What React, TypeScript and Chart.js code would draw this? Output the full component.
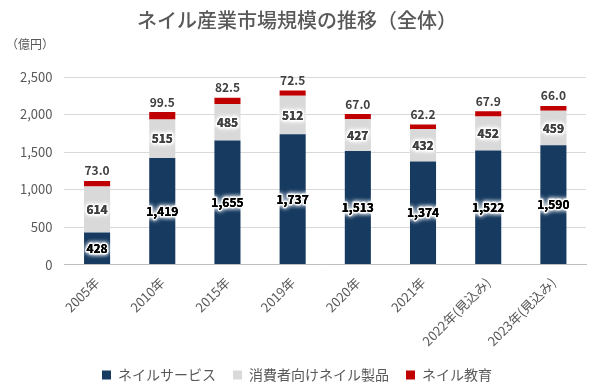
import React, { useEffect, useRef } from "react";
import { Chart, registerables } from "chart.js";

Chart.register(...registerables);

const categories = ["2005年", "2010年", "2015年", "2019年", "2020年", "2021年", "2022年(見込み)", "2023年(見込み)"];
const nailService = [428, 1419, 1655, 1737, 1513, 1374, 1522, 1590];
const consumerProducts = [614, 515, 485, 512, 427, 432, 452, 459];
const nailEducation = [73.0, 99.5, 82.5, 72.5, 67.0, 62.2, 67.9, 66.0];
const yTicks = [0, 500, 1000, 1500, 2000, 2500];

const FONT = "'Noto Sans CJK JP', 'Noto Sans', sans-serif";

export default function App() {
  const ref = useRef<HTMLCanvasElement | null>(null);
  useEffect(() => {
    document.body.style.margin = "0";
    const labelsPlugin = {
      id: "valueLabels",
      afterDatasetsDraw(chart: any) {
        const ctx = chart.ctx;
        ctx.save();
        ctx.textAlign = "center";
        ctx.textBaseline = "middle";
        ctx.font = `bold 12px ${FONT}`;
        chart.data.datasets.forEach((ds: any, di: number) => {
          const meta = chart.getDatasetMeta(di);
          meta.data.forEach((el: any, i: number) => {
            const v = ds.data[i];
            const x = el.x;
            if (di === 2) {
              ctx.fillStyle = "#404040";
              ctx.shadowBlur = 0;
              ctx.fillText(v.toFixed(1), x, el.y - 10);
              return;
            }
            const text = v.toLocaleString("en-US");
            const y = (el.y + el.base) / 2;
            ctx.shadowColor = "#ffffff";
            ctx.shadowBlur = 5;
            ctx.strokeStyle = "rgba(255,255,255,0.9)";
            ctx.lineWidth = 3;
            ctx.lineJoin = "round";
            ctx.strokeText(text, x, y);
            ctx.fillStyle = di === 0 ? "#000000" : "#404040";
            for (let k = 0; k < 3; k++) ctx.fillText(text, x, y);
            ctx.shadowBlur = 0;
            ctx.fillText(text, x, y);
          });
        });
        ctx.restore();
      },
    };
    const unitPlugin = {
      id: "unitLabel",
      afterDraw(chart: any) {
        const ctx = chart.ctx;
        ctx.save();
        ctx.font = `12px ${FONT}`;
        ctx.fillStyle = "#595959";
        ctx.textAlign = "left";
        ctx.textBaseline = "middle";
        ctx.fillText("（億円）", 6, 44);
        ctx.restore();
      },
    };
    const chart = new Chart(ref.current!, {
      type: "bar",
      data: {
        labels: categories,
        datasets: [
          { label: "ネイルサービス", data: nailService, backgroundColor: "#163A60", barPercentage: 0.4, categoryPercentage: 1 },
          { label: "消費者向けネイル製品", data: consumerProducts, backgroundColor: "#D9D9D9", barPercentage: 0.4, categoryPercentage: 1 },
          { label: "ネイル教育", data: nailEducation, backgroundColor: "#C00000", barPercentage: 0.4, categoryPercentage: 1 },
        ],
      },
      options: {
        animation: false,
        responsive: false,
        layout: { padding: { top: 0, right: 14, left: 8, bottom: 0 } },
        plugins: {
          title: {
            display: true,
            text: "ネイル産業市場規模の推移（全体）",
            color: "#595959",
            font: { family: FONT, size: 20, weight: 500 },
            padding: { top: 8, bottom: 45 },
          },
          legend: {
            position: "bottom",
            labels: {
              boxWidth: 9,
              boxHeight: 9,
              color: "#595959",
              font: { family: FONT, size: 14 },
              padding: 17,
            },
          },
          tooltip: { enabled: false },
        },
        scales: {
          x: {
            stacked: true,
            grid: { display: false },
            border: { color: "#BFBFBF" },
            ticks: {
              color: "#595959",
              font: { family: FONT, size: 13 },
              maxRotation: 45,
              minRotation: 45,
              padding: 2,
            },
          },
          y: {
            stacked: true,
            min: 0,
            max: 2500,
            afterBuildTicks(axis: any) {
              axis.ticks = yTicks.map((v) => ({ value: v }));
            },
            grid: { color: "#D9D9D9", drawTicks: false },
            border: { display: false },
            ticks: {
              color: "#595959",
              font: { family: FONT, size: 13 },
              padding: 12,
              callback: (v: any) => Number(v).toLocaleString("en-US"),
            },
          },
        },
      },
      plugins: [labelsPlugin, unitPlugin],
    } as any);
    return () => chart.destroy();
  }, []);
  return <canvas ref={ref} width={600} height={392} />;
}
